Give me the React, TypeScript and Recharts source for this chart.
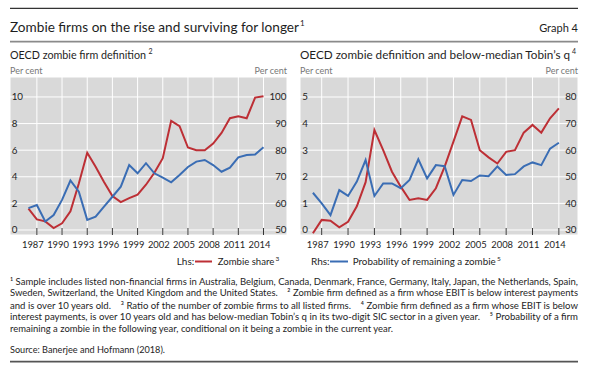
import React from 'react';
import { LineChart, Line, XAxis, YAxis, CartesianGrid } from 'recharts';

const years = [1986, 1987, 1988, 1989, 1990, 1991, 1992, 1993, 1994, 1995, 1996, 1997, 1998, 1999, 2000, 2001, 2002, 2003, 2004, 2005, 2006, 2007, 2008, 2009, 2010, 2011, 2012, 2013, 2014];

// Panel A: OECD zombie firm definition
const zombieShareOecd = [1.6, 0.8, 0.65, 0.15, 0.5, 1.4, 3.5, 5.8, 4.75, 3.6, 2.55, 2.1, 2.4, 2.65, 3.4, 4.3, 5.4, 8.2, 7.8, 6.2, 6.0, 6.0, 6.5, 7.3, 8.4, 8.55, 8.4, 9.95, 10.05];
const remainProbOecd = [58.2, 59.4, 53.2, 55.6, 61.3, 68.6, 64.4, 53.8, 55.0, 58.8, 62.5, 66.3, 74.4, 71.3, 75.1, 71.3, 69.7, 67.9, 70.7, 73.7, 75.7, 76.3, 74.4, 71.9, 73.4, 77.3, 78.2, 78.4, 81.1];

// Panel B: OECD zombie definition and below-median Tobin's q
const zombieShareTobin = [-0.12, 0.38, 0.35, 0.1, 0.31, 0.89, 1.8, 3.76, 3.0, 2.19, 1.63, 1.13, 1.19, 1.13, 1.57, 2.38, 3.32, 4.27, 4.14, 3.0, 2.73, 2.5, 2.94, 3.0, 3.66, 3.95, 3.66, 4.2, 4.57];
const remainProbTobin = [44.0, 40.0, 35.6, 45.0, 42.8, 48.2, 56.3, 42.8, 47.5, 47.5, 45.7, 48.8, 56.6, 49.4, 54.4, 54.0, 43.2, 48.8, 48.4, 50.5, 50.2, 53.9, 50.7, 51.0, 53.9, 55.4, 54.4, 60.6, 62.8];

const xTicks = [1987, 1990, 1993, 1996, 1999, 2002, 2005, 2008, 2011, 2014];
const lhsTicksA = [0, 2, 4, 6, 8, 10];
const rhsTicksA = [50, 60, 70, 80, 90, 100];
const lhsTicksB = [0, 1, 2, 3, 4, 5];
const rhsTicksB = [30, 40, 50, 60, 70, 80];

const footnoteLines = [
  '¹ Sample includes listed non-financial firms in Australia, Belgium, Canada, Denmark, France, Germany, Italy, Japan, the Netherlands, Spain,',
  'Sweden, Switzerland, the United Kingdom and the United States.    ² Zombie firm defined as a firm whose EBIT is below interest payments',
  'and is over 10 years old.    ³ Ratio of the number of zombie firms to all listed firms.    ⁴ Zombie firm defined as a firm whose EBIT is below',
  'interest payments, is over 10 years old and has below-median Tobin’s q in its two-digit SIC sector in a given year.    ⁵ Probability of a firm',
  'remaining a zombie in the following year, conditional on it being a zombie in the current year.',
];

const dataA = years.map((year, i) => ({ year, share: zombieShareOecd[i], prob: remainProbOecd[i] }));
const dataB = years.map((year, i) => ({ year, share: zombieShareTobin[i], prob: remainProbTobin[i] }));

const FONT = "Lato, 'Open Sans', 'DejaVu Sans', sans-serif";
const RED = '#bd2f35';
const BLUE = '#3a6db4';
const GREY_BG = '#d9d9d9';
const TEXT = '#1e1e1e';

const XTick = (p: any) => (
  <g>
    <line x1={p.x} x2={p.x} y1={p.y - 7} y2={p.y} stroke="#333" strokeWidth={1} />
    <text x={p.x - 4} y={p.y + 12.5} textAnchor="middle" fontSize={9.4} fill={TEXT} fontFamily={FONT}>
      {p.payload.value}
    </text>
  </g>
);

const makeLeftTick = (dx: number) => (p: any) => (
  <text x={p.x + dx} y={p.y + 3.4} textAnchor="start" fontSize={9.8} fill={TEXT} fontFamily={FONT}>
    {p.payload.value}
  </text>
);
const makeRightTick = (dx: number) => (p: any) => (
  <text x={p.x + dx} y={p.y + 3.4} textAnchor="end" fontSize={9.8} fill={TEXT} fontFamily={FONT}>
    {p.payload.value}
  </text>
);

type PanelProps = {
  data: any[];
  margin: { top: number; right: number; bottom: number; left: number };
  xDomain: [number, number];
  lDomain: [number, number];
  rDomain: [number, number];
  lTicks: number[];
  rTicks: number[];
  lDx: number;
  rDx: number;
};

function Panel({ data, margin, xDomain, lDomain, rDomain, lTicks, rTicks, lDx, rDx }: PanelProps) {
  return (
    <LineChart width={295} height={260} data={data} margin={margin}>
      <CartesianGrid fill={GREY_BG} stroke="#ffffff" strokeWidth={1} yAxisId="l" />
      <XAxis
        dataKey="year"
        type="number"
        domain={xDomain}
        ticks={xTicks}
        interval={0}
        allowDataOverflow
        axisLine={false}
        tickLine={false}
        tickSize={0}
        tickMargin={0}
        height={1}
        tick={XTick}
      />
      <YAxis
        yAxisId="l"
        orientation="left"
        type="number"
        domain={lDomain}
        ticks={lTicks}
        interval={0}
        allowDataOverflow
        axisLine={false}
        tickLine={false}
        tickSize={0}
        tickMargin={0}
        width={1}
        tick={makeLeftTick(lDx)}
      />
      <YAxis
        yAxisId="r"
        orientation="right"
        type="number"
        domain={rDomain}
        ticks={rTicks}
        interval={0}
        allowDataOverflow
        axisLine={false}
        tickLine={false}
        tickSize={0}
        tickMargin={0}
        width={1}
        tick={makeRightTick(rDx)}
      />
      <Line yAxisId="l" type="linear" dataKey="share" stroke={RED} strokeWidth={2} dot={false} activeDot={false} isAnimationActive={false} />
      <Line yAxisId="r" type="linear" dataKey="prob" stroke={BLUE} strokeWidth={2} dot={false} activeDot={false} isAnimationActive={false} />
    </LineChart>
  );
}

const T = (props: any) => <text fontFamily={FONT} fill={TEXT} style={{ whiteSpace: 'pre' }} {...props} />;

export default function App() {
  return (
    <div style={{ position: 'absolute', left: 0, top: 0, width: 590, height: 370, background: '#fff', overflow: 'hidden' }}>
      <svg width={590} height={370} style={{ position: 'absolute', left: 0, top: 0 }}>
        <line x1={10} x2={578} y1={8.3} y2={8.3} stroke="#333" strokeWidth={1.3} />
        <T x={10} y={31.5} fontSize={13.5} textLength={289} lengthAdjust="spacingAndGlyphs">Zombie firms on the rise and surviving for longer</T>
        <T x={300} y={25.5} fontSize={8}>1</T>
        <T x={578} y={32} fontSize={11} textAnchor="end">Graph 4</T>
        <line x1={10} x2={578} y1={41.7} y2={41.7} stroke="#8a8a8a" strokeWidth={1.8} />

        <T x={10} y={58.5} fontSize={10.8} textLength={136} lengthAdjust="spacingAndGlyphs">OECD zombie firm definition</T>
        <T x={148.5} y={53.5} fontSize={7}>2</T>
        <T x={300} y={58.5} fontSize={10.8} textLength={270} lengthAdjust="spacingAndGlyphs">OECD zombie definition and below-median Tobin’s q</T>
        <T x={572} y={53.5} fontSize={7}>4</T>

        <T x={10} y={74} fontSize={9} fill="#777">Per cent</T>
        <T x={287} y={74} fontSize={9} fill="#777" textAnchor="end">Per cent</T>
        <T x={300} y={74} fontSize={9} fill="#777">Per cent</T>
        <T x={578} y={74} fontSize={9} fill="#777" textAnchor="end">Per cent</T>

        <T x={176.7} y={265} fontSize={10}>Lhs:</T>
        <line x1={195} x2={212} y1={261.5} y2={261.5} stroke={RED} strokeWidth={2} />
        <T x={217.7} y={265} fontSize={10} textLength={56.6} lengthAdjust="spacingAndGlyphs">Zombie share</T>
        <T x={275.5} y={260.5} fontSize={6.5}>3</T>
        <T x={311} y={265} fontSize={10}>Rhs:</T>
        <line x1={330} x2={348} y1={261.5} y2={261.5} stroke={BLUE} strokeWidth={2} />
        <T x={352.7} y={265} fontSize={10} textLength={143} lengthAdjust="spacingAndGlyphs">Probability of remaining a zombie</T>
        <T x={497} y={260.5} fontSize={6.5}>5</T>

        {footnoteLines.map((line, i) => (
          <T
            key={i}
            x={10}
            y={[284.5, 296.3, 308.5, 320, 331.5][i]}
            fontSize={9}
            textLength={i < 4 ? 568 : 383}
            lengthAdjust="spacingAndGlyphs"
          >
            {line}
          </T>
        ))}
        <T x={10} y={353} fontSize={9} textLength={155} lengthAdjust="spacingAndGlyphs">Source: Banerjee and Hofmann (2018).</T>
        <line x1={10} x2={578} y1={361.7} y2={361.7} stroke="#555" strokeWidth={1.8} />
      </svg>

      <div style={{ position: 'absolute', left: 0, top: 0 }}>
        <Panel
          data={dataA}
          margin={{ top: 77, right: 7, bottom: 24, left: 9 }}
          xDomain={[1983.8, 2016.8]}
          lDomain={[-0.376, 11.5]}
          rDomain={[48.12, 107.5]}
          lTicks={lhsTicksA}
          rTicks={rhsTicksA}
          lDx={1.7}
          rDx={-0.5}
        />
      </div>
      <div style={{ position: 'absolute', left: 295, top: 0 }}>
        <Panel
          data={dataB}
          margin={{ top: 77, right: 11, bottom: 24, left: 4 }}
          xDomain={[1984.53, 2016.18]}
          lDomain={[-0.188, 5.752]}
          rDomain={[28.12, 87.52]}
          lTicks={lhsTicksB}
          rTicks={rhsTicksB}
          lDx={2.2}
          rDx={-1.5}
        />
      </div>
    </div>
  );
}
